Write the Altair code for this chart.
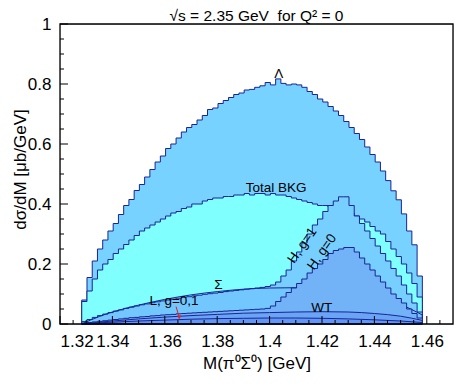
import altair as alt
import pandas as pd

# ---------------- data ----------------
bin_start = 1.3283
bin_width = 0.002
n_bins = 65

lam = [0.08,0.155,0.21,0.25,0.28,0.31,0.335,0.365,0.395,0.415,
       0.445,0.465,0.49,0.515,0.54,0.56,0.585,0.60,0.62,0.64,
       0.655,0.665,0.68,0.695,0.715,0.72,0.735,0.745,0.755,0.765,
       0.77,0.78,0.782,0.789,0.794,0.805,0.797,0.817,0.802,0.797,
       0.80,0.797,0.789,0.775,0.765,0.75,0.74,0.725,0.71,0.695,
       0.675,0.655,0.635,0.615,0.59,0.565,0.54,0.51,0.478,0.444,
       0.414,0.367,0.31,0.264,0.16]

tot = [0.075,0.11,0.15,0.18,0.20,0.215,0.235,0.25,0.265,0.28,
       0.295,0.31,0.32,0.33,0.34,0.35,0.36,0.37,0.375,0.385,
       0.39,0.40,0.40,0.41,0.415,0.42,0.42,0.425,0.425,0.43,
       0.43,0.435,0.43,0.435,0.435,0.43,0.435,0.43,0.43,0.425,
       0.42,0.415,0.41,0.405,0.40,0.395,0.395,0.39,0.39,0.385,
       0.38,0.37,0.36,0.35,0.34,0.325,0.31,0.30,0.275,0.25,
       0.225,0.20,0.17,0.135,0.09]

hg1 = [0.008,0.015,0.022,0.028,0.033,0.038,0.043,0.047,0.052,0.056,
       0.06,0.064,0.067,0.071,0.074,0.077,0.08,0.083,0.086,0.089,
       0.091,0.094,0.096,0.099,0.101,0.103,0.105,0.108,0.11,0.112,
       0.114,0.116,0.118,0.12,0.122,0.125,0.13,0.14,0.16,0.18,
       0.21,0.24,0.27,0.30,0.33,0.35,0.375,0.395,0.41,0.424,
       0.424,0.395,0.36,0.335,0.31,0.285,0.26,0.235,0.21,0.185,
       0.16,0.13,0.10,0.07,0.04]

hg0 = [0.003,0.005,0.007,0.009,0.011,0.013,0.015,0.017,0.019,0.021,
       0.022,0.024,0.025,0.027,0.028,0.03,0.031,0.032,0.034,0.035,
       0.036,0.037,0.038,0.039,0.04,0.041,0.042,0.043,0.044,0.045,
       0.046,0.047,0.048,0.049,0.05,0.052,0.06,0.075,0.09,0.105,
       0.12,0.135,0.15,0.17,0.185,0.20,0.215,0.235,0.245,0.25,
       0.255,0.255,0.24,0.22,0.20,0.18,0.16,0.14,0.12,0.10,
       0.085,0.07,0.05,0.035,0.02]

curve_x = [1.3283,1.335,1.34,1.35,1.36,1.37,1.38,1.39,1.40,1.41,1.42,1.43,1.44,1.45,1.4583]
sig_y = [0.0,0.025,0.04,0.063,0.082,0.097,0.108,0.116,0.12,0.121,0.117,0.106,0.09,0.065,0.03]
wt_y = [0.0,0.006,0.01,0.017,0.023,0.028,0.032,0.036,0.038,0.04,0.041,0.04,0.035,0.026,0.012]
l_y = [0.0,0.004,0.006,0.01,0.013,0.016,0.018,0.019,0.02,0.02,0.019,0.017,0.014,0.01,0.005]

x_major = [1.32,1.34,1.36,1.38,1.40,1.42,1.44,1.46]
x_minor = [1.325,1.33,1.335,1.345,1.35,1.355,1.365,1.37,1.375,1.385,1.39,1.395,
           1.405,1.41,1.415,1.425,1.43,1.435,1.445,1.45,1.455,1.465]
y_major = [0.0,0.2,0.4,0.6,0.8,1.0]
y_minor = [0.05,0.1,0.15,0.25,0.3,0.35,0.45,0.5,0.55,0.65,0.7,0.75,0.85,0.9,0.95]

title_text = "√s = 2.35 GeV\u00a0 for Q² = 0"
labels_text = ["Λ", "Total BKG", "Σ", "L, g=0,1", "WT"]
labels_x = [1.4035, 1.4025, 1.3805, 1.3635, 1.4199]
labels_y = [0.835, 0.455, 0.13, 0.078, 0.055]
rot_text = ["H, g=1", "H, g=0"]
rot_x = [1.4125, 1.42]
rot_y = [0.262, 0.24]
arrow_x = [1.3643, 1.3655]
arrow_y = [0.058, 0.022]

# ---------------- helpers ----------------
FONT = "Liberation Sans"
LINE = "#1a2496"
W, H = 393, 300
xs = alt.Scale(domain=[1.32, 1.47], nice=False, zero=False)
ys = alt.Scale(domain=[0, 1], nice=False)


def hist_df(vals):
    edges = [round(bin_start + i * bin_width, 5) for i in range(n_bins + 1)]
    return pd.DataFrame({"x": edges, "y": list(vals) + [vals[-1]]})


def hist_layer(vals, fill, opacity):
    return alt.Chart(hist_df(vals)).mark_area(
        interpolate="step-after", fill=fill, fillOpacity=opacity, opacity=1,
        stroke=LINE, strokeWidth=1, clip=True
    ).encode(
        x=alt.X("x:Q", scale=xs, title="M(π⁰Σ⁰) [GeV]",
                axis=alt.Axis(values=x_major, format=".3~g", ticks=False, domain=False,
                              grid=False, labelFont=FONT, labelFontSize=17, labelPadding=9,
                              titleFont=FONT, titleFontSize=17, titleFontWeight="normal",
                              titlePadding=6, labelColor="black", titleColor="black")),
        y=alt.Y("y:Q", scale=ys, title="dσ/dM [μb/GeV]",
                axis=alt.Axis(values=y_major, format=".2~g", ticks=False, domain=False,
                              grid=False, labelFont=FONT, labelFontSize=17, labelPadding=9,
                              titleFont=FONT, titleFontSize=17, titleFontWeight="normal",
                              titleX=-31, titleY=145, titleAngle=270, titleBaseline="bottom",
                              labelColor="black", titleColor="black")),
    )


def curve_layer(yvals, fill, opacity):
    df = pd.DataFrame({"x": curve_x, "y": yvals})
    return alt.Chart(df).mark_area(
        interpolate="monotone", fill=fill, fillOpacity=opacity, opacity=1,
        stroke=LINE, strokeWidth=1
    ).encode(x=alt.X("x:Q", scale=xs), y=alt.Y("y:Q", scale=ys))


layers = [
    hist_layer(lam, "#77d2ff", 1.0),
    hist_layer(tot, "#80ffff", 1.0),
    hist_layer(hg1, "#76cfff", 1.0),
    curve_layer(sig_y, "#3a5cf0", 0.06),
    hist_layer(hg0, "#72b2f6", 1.0),
    curve_layer(wt_y, "#3a5cf0", 0.15),
    curve_layer(l_y, "#3a5cf0", 0.2),
]

# inward ticks
xt_major = alt.Chart(pd.DataFrame({"x": x_major})).mark_rule(color="black", strokeWidth=1).encode(
    x=alt.X("x:Q", scale=xs), y=alt.value(H), y2=alt.value(H - 8))
xt_minor = alt.Chart(pd.DataFrame({"x": x_minor})).mark_rule(color="black", strokeWidth=1).encode(
    x=alt.X("x:Q", scale=xs), y=alt.value(H), y2=alt.value(H - 4))
yt_major = alt.Chart(pd.DataFrame({"y": y_major})).mark_rule(color="black", strokeWidth=1).encode(
    y=alt.Y("y:Q", scale=ys), x=alt.value(0), x2=alt.value(8))
yt_minor = alt.Chart(pd.DataFrame({"y": y_minor})).mark_rule(color="black", strokeWidth=1).encode(
    y=alt.Y("y:Q", scale=ys), x=alt.value(0), x2=alt.value(4))

frame = alt.Chart(pd.DataFrame({"k": [0]})).mark_rect(
    fill=None, fillOpacity=0, stroke="black", strokeWidth=1.3
).encode(x=alt.value(0), x2=alt.value(W), y=alt.value(0), y2=alt.value(H))

title = alt.Chart(pd.DataFrame({"t": [title_text]})).mark_text(
    font=FONT, fontSize=15.5, color="black", align="center", baseline="alphabetic"
).encode(x=alt.value(W / 2), y=alt.value(-3), text="t:N")

texts = alt.Chart(pd.DataFrame({"x": labels_x, "y": labels_y, "t": labels_text})).mark_text(
    font=FONT, fontSize=13.5, color="black", align="center", baseline="middle"
).encode(x=alt.X("x:Q", scale=xs), y=alt.Y("y:Q", scale=ys), text="t:N")

rtexts = alt.Chart(pd.DataFrame({"x": rot_x, "y": rot_y, "t": rot_text})).mark_text(
    font=FONT, fontSize=13.5, color="black", align="center", baseline="middle", angle=305
).encode(x=alt.X("x:Q", scale=xs), y=alt.Y("y:Q", scale=ys), text="t:N")

arrow = alt.Chart(pd.DataFrame({"x": arrow_x, "y": arrow_y})).mark_line(color="#e02020", strokeWidth=1).encode(
    x=alt.X("x:Q", scale=xs), y=alt.Y("y:Q", scale=ys))
arrow_head = alt.Chart(pd.DataFrame({"x": arrow_x[1:], "y": arrow_y[1:]})).mark_point(
    shape="triangle-down", size=18, filled=True, color="#e02020", opacity=1
).encode(x=alt.X("x:Q", scale=xs), y=alt.Y("y:Q", scale=ys))

chart = alt.layer(*layers, xt_major, xt_minor, yt_major, yt_minor, frame, title, texts, rtexts,
                  arrow, arrow_head).properties(
    width=W, height=H,
    autosize=alt.AutoSizeParams(type="none"),
    padding={"left": 52, "top": 16, "right": 1, "bottom": 50},
).configure_view(strokeWidth=0).configure(background="white")

chart.save("out.html", embed_options={"renderer": "svg", "actions": False})
